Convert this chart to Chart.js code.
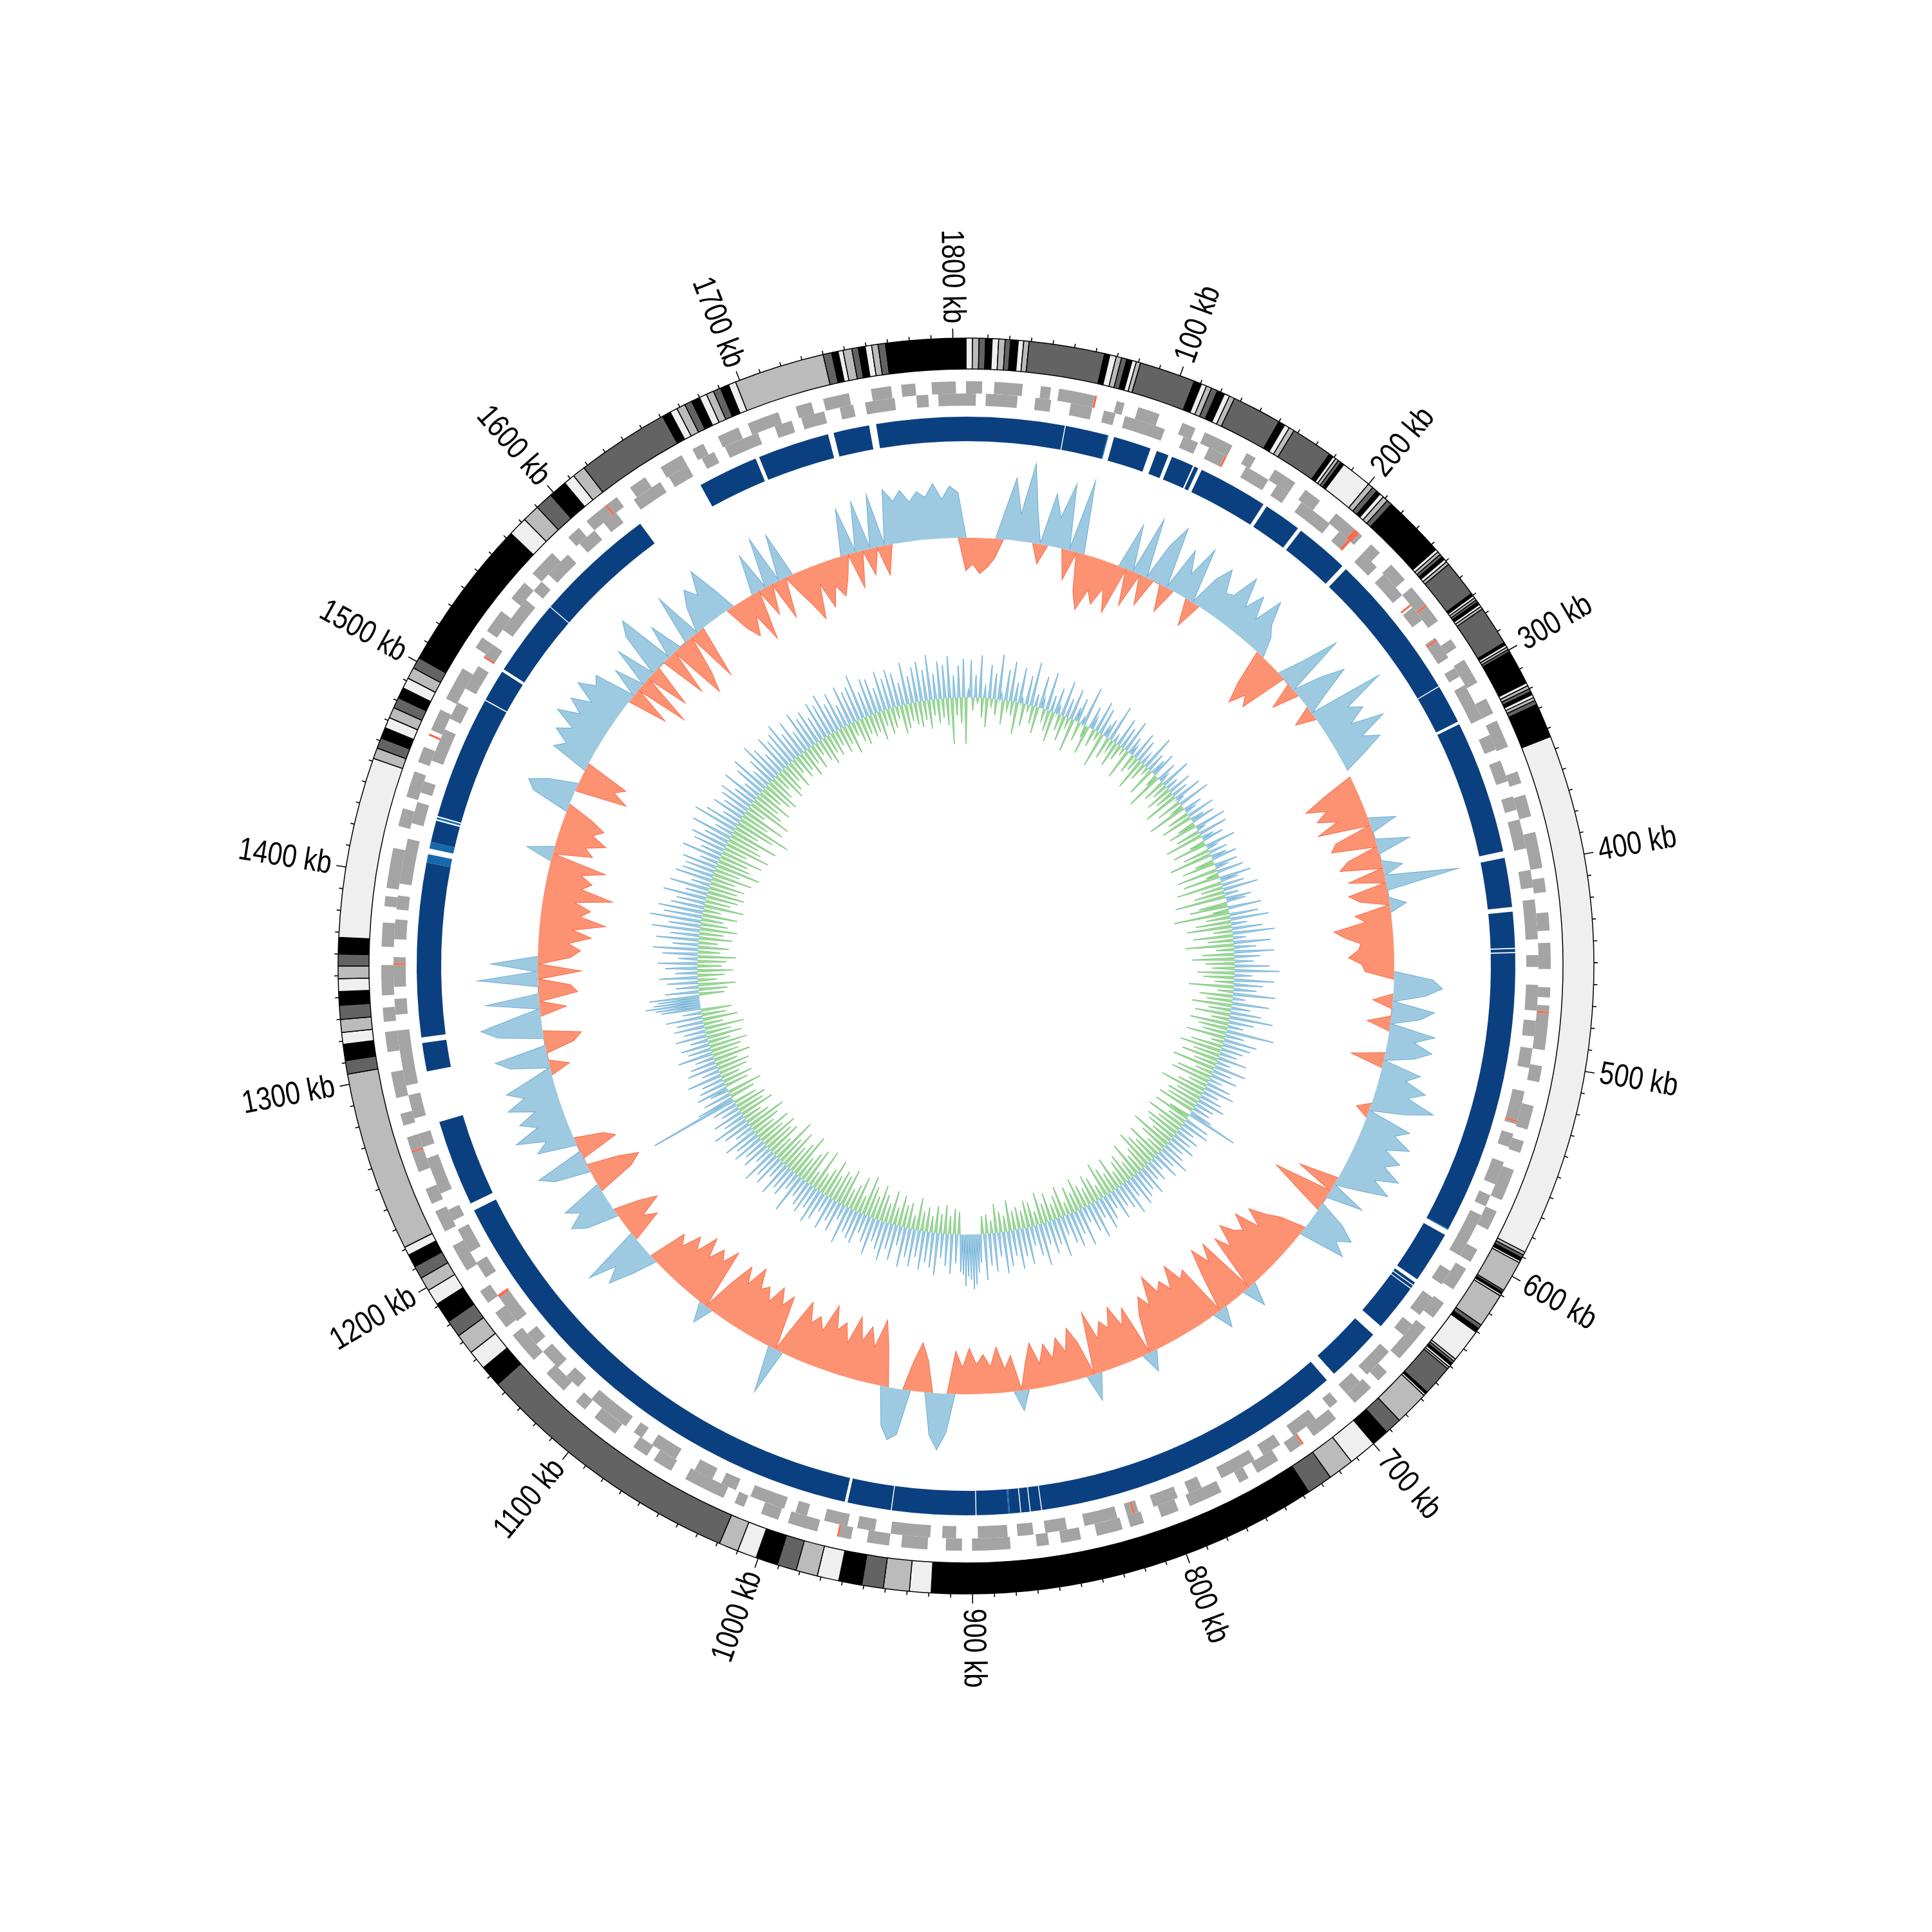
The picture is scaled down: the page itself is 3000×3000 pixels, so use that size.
<!DOCTYPE html>
<html>
<head>
<meta charset="utf-8">
<script src="https://cdn.jsdelivr.net/npm/chart.js@4.4.1/dist/chart.umd.min.js"></script>
<style>
  html, body { margin: 0; padding: 0; background: #fff; }
  #wrap { position: relative; width: 3000px; height: 3000px; }
  #wrap canvas { position: absolute; left: 0; top: 0; }
</style>
</head>
<body>
<div id="wrap">
  <canvas id="rings" width="3000" height="3000"></canvas>
  <canvas id="skew" width="3000" height="3000"></canvas>
  <canvas id="gc" width="3000" height="3000"></canvas>
</div>
<script>
// genome length (kb); contigs run clockwise from the top
const genomeSize = 1806;
const contigLengths = [
  3, 3, 3, 3, 3, 3, 2.5, 3.5, 2.5, 2.5,
  35, 2.5, 3, 2.5, 2.5, 2.5, 2, 2, 26, 3.5,
  2.5, 2.5, 3, 3.5, 2.5, 2.5, 23, 3, 2.5, 2.5,
  19.5, 2, 1.5, 1.5, 1.5, 1.6, 14.4, 2.5, 2.5, 2,
  2, 2.5, 2.5, 29, 1.5, 1.5, 1.5, 1.5, 1.5, 1.5,
  17, 1.2, 1.2, 1.2, 1.2, 1.3, 1.2, 1.3, 18.4, 1.2,
  1.2, 1.2, 1.2, 16.2, 1.5, 1.5, 1.5, 1.5, 1.5, 1.5,
  2, 16, 243.5, 1.5, 1.5, 1.5, 1, 14.5, 1, 1,
  1, 16, 2, 2, 15.5, 1.2, 1.2, 1.2, 1.1, 1,
  14.3, 1, 1, 16, 8, 8, 13, 12, 12, 182,
  10, 12, 10, 10.7, 10.1, 10, 9, 10.2, 9, 9,
  126, 10, 9, 9.5, 8, 9.5, 7.5, 6.5, 6, 6,
  4, 83.7, 6.3, 7.5, 5.5, 6, 6.5, 6.3, 5.9, 5.8,
  5.5, 7.6, 83.8, 5, 5, 5, 5, 5, 5, 5,
  5, 5.3, 5.3, 71, 8.9, 8.1, 8.3, 8.5, 5.2, 6,
  43, 4, 3.5, 4, 3.5, 4, 3.5, 3.5, 3.5, 4,
  3.5, 42, 4, 3, 2.3, 4.1, 3, 3.2, 3, 3,
  3.4, 37
];
const contigShades = ['#efefef', '#bbbbbb', '#636363', '#000000'];

// CDS clusters per strand as [cluster length kb, gap after it kb], from 0 kb
const cdsForward = [
  [8,6],[14,9],[5,4],[19,10],[4,7],[11,12],[7,5],[15,8],[5,11],[12,6],
  [9,10],[17,6],[6,8],[10,5],[21,11],[5,7],[13,9],[8,4],[14,13],[6,6],
  [11,8],[18,5],[7,10],[9,6],[13,9],[5,4],[22,8],[8,12],[12,6],[6,9],
  [16,6],[10,11],[7,4],[12,8],[9,6],[20,9],[6,5],[11,12],[14,6],[8,7],
  [12,5],[5,10],[17,6],[9,9],[7,4],[13,8],[10,6],[6,13],[19,5],[8,9],
  [13,6],[11,8],[7,10],[15,5],[9,9],[5,6],[21,8],[10,4],[8,11],[13,6],
  [6,8],[12,9],[16,5],[9,6],[7,12],[14,8],[11,4],[8,9],[18,6],[6,8],
  [13,10],[10,5],[7,6],[15,9],[12,8],[5,4],[20,11],[9,6],[13,5],[8,9],
  [11,6],[17,12],[6,4],[12,8],[10,6],[14,11],[7,5],[19,8],[9,9],[12,6],
  [6,8],[11,5],[16,9],[8,6],[13,11],[10,5],[7,8],[12,4]
];
const cdsReverse = [
  [5,5],[16,9],[8,10],[11,6],[6,5],[21,10],[8,6],[9,12],[13,5],[7,8],
  [18,6],[6,10],[10,5],[14,8],[8,11],[12,6],[5,5],[19,9],[8,6],[11,8],
  [7,5],[15,11],[9,6],[20,8],[6,9],[13,5],[8,6],[10,12],[17,5],[7,8],
  [12,6],[6,5],[23,9],[8,8],[11,6],[7,11],[16,5],[9,6],[5,9],[14,8],
  [10,5],[19,11],[7,6],[13,8],[6,5],[17,9],[11,6],[8,5],[15,11],[7,6],
  [20,8],[9,5],[12,9],[6,6],[18,8],[8,5],[10,11],[14,6],[5,5],[22,9],
  [8,6],[11,5],[7,8],[16,11],[9,6],[13,5],[6,9],[19,6],[7,8],[12,5],
  [28,8],[8,6],[15,9],[10,5],[7,6],[23,8],[11,5],[6,11],[17,6],[9,8],
  [13,5],[8,9],[19,6],[6,5],[14,8],[10,6],[8,11],[16,5],[11,8],[7,6],
  [18,9],[9,5],[12,8],[7,6],[15,11],[6,5],[14,4]
];
// rRNA / tRNA loci: [start kb, end kb, strand 1 forward / 2 reverse]
const rnaGenes = [
  [64,65,1],[135,136,2],[209,212,1],[210,211.5,2],[255,256,2],[260,261,1],[277,278,2],
  [474,475,1],[530,531,2],[726,727,1],[817,818,2],[966,967,1],[1177,1178.5,2],
  [1261,1262,1],[1355,1356,2],[1471,1472,1],[1518,1519,2],[1615,1616,1]
];

// conserved blocks (start kb, end kb)
const syntenyBlocks = [
  [0,52],[52.5,75],[78.5,98.5],[102,108.5],[110.5,122.5],[123.3,125.5],[127.5,164.5],[166.5,186.5],
  [188.5,217],[219.5,297.8],[298.3,319],[320.5,391],[394.5,420.5],[423,442],[442.6,444.2],[444.8,595],
  [598.5,626],[628,629.5],[630,631.5],[632,657],[663,692],[697,863],[863.5,869],[869.5,874],[874.5,880],
  [880.7,897.5],[898,942],[942.5,965.5],[967,1222],[1226,1271.7],[1299,1314],[1317,1409],[1420,1431.5],
  [1434,1499.4],[1500,1517],[1518.5,1559],[1559.5,1623.5],[1661,1693],[1695,1733],[1736,1755],[1758.7,1806]
];
const syntenyEdges = [[75,75.5],[595,595.5],[880,880.7],[1409,1413.5],[1416.5,1420],[1432.3,1433.3]];

// GC skew per window (x 0.001), blue above zero, red below; null = no data
const gcSkew = [
  -50,-40,-55,-45,-30,45,95,40,120,50,
  -30,80,45,100,-45,110,-60,-85,-50,-70,
  -40,-75,70,-55,90,-45,60,95,-40,70,
  35,85,-40,50,75,40,45,85,40,70,
  35,80,45,30,-55,-85,-60,-75,40,95,
  -40,45,80,35,-30,116,50,70,40,90,
  45,70,35,null,null,-50,-85,-55,-75,-45,
  -80,40,-60,-70,50,-50,-65,30,-55,110,
  -60,-45,25,-55,-40,-90,-75,-50,-55,-70,
  -50,-45,60,75,50,-30,65,45,-35,70,
  40,70,45,-50,60,40,75,50,95,55,
  -20,70,50,80,45,75,55,85,50,80,
  40,-60,55,-90,-50,45,70,50,72,-40,
  -60,-85,-55,-95,-70,-80,-100,-65,-90,35,
  -96,-70,-100,-60,30,-85,-75,-105,-70,-90,
  -77,-109,-65,-85,-60,30,-80,-55,-90,-60,
  -75,-50,-95,40,-55,-80,-45,-70,-40,-65,
  -35,-70,-40,30,-55,-35,-70,-40,-60,-45,
  -70,-40,-65,60,87,65,-50,-75,-45,70,
  80,60,-60,-100,-55,-85,-60,-95,-50,-80,
  -65,-100,-55,-75,-60,-90,-50,70,-85,-65,
  -90,-60,-80,-70,-100,-65,-90,-55,30,-95,
  -70,-85,-60,-90,-55,-75,-45,-60,40,75,
  50,92,-50,-30,-66,-40,50,70,45,65,
  -60,-79,-50,55,76,-60,-45,60,40,85,
  45,70,40,80,50,75,35,-30,60,80,
  -45,-58,70,94,45,-40,80,-60,-50,90,
  -65,70,-50,-65,-45,-80,-50,-100,-60,-75,
  -48,-105,-55,-70,-50,-85,40,-60,-45,-75,
  -50,-65,-40,60,73,45,-80,-55,-70,60,
  45,70,48,83,50,75,45,80,55,65,
  -60,45,-80,60,-65,70,90,-70,50,-90,
  -60,75,-80,40,64,45,80,40,-40,-60,
  -30,-75,60,-45,75,-60,70,-30,-55,-82,
  -28,-70,-40,-60,-35,70,-55,75,-40,80,
  -45,85,65,80,60,75,65,85,60,80,
  70
];

// GC content deviation from the mean per window (x 0.001), blue above, green below
const gcContent = [
  -72,12,58,-20,35,-8,66,-30,18,-45,52,-12,40,-25,70,10,-38,48,-15,62,
  -22,30,-50,55,8,-35,45,-10,68,-28,20,-42,50,15,-18,60,-33,25,-48,40,
  12,-26,55,-40,30,-15,48,-52,22,38,-30,10,62,-20,-45,35,18,-28,50,-12,
  42,-55,20,30,-35,58,-18,12,-40,46,-25,35,-10,52,-48,28,15,-30,44,-22,
  36,-50,18,-28,55,-12,30,-45,25,40,-20,-58,32,14,-36,48,-25,20,-42,38,
  -30,26,-55,45,10,-40,52,-18,-62,30,16,-35,44,-50,22,38,-28,-45,50,12,
  -38,46,-60,20,34,-25,-55,48,15,-42,30,-68,25,40,-30,-52,36,18,-65,42,
  -20,-58,50,28,-72,35,-35,55,-48,22,-80,40,30,-45,-60,52,-25,-87,45,-38,
  60,-55,25,-70,48,-30,66,-62,20,-40,58,-75,35,-28,62,-50,40,-66,30,-45,
  55,-35,70,-58,28,-48,62,-30,45,-70,36,-25,66,-52,20,-40,58,-62,30,-35,
  48,-55,68,-28,40,-60,25,-45,75,-38,30,-62,52,-20,44,-50,35,-66,28,-42,
  46,-58,22,-36,50,-68,30,-28,42,-55,18,-62,38,-30,48,-45,26,-70,35,-40,
  44,-52,30,-48,28,-60,36,81,-35,-58,40,-30,45,-62,25,-40,38,-55,30,-48,
  42,-35,28,-66,35,-45,50,-28,30,-58,44,-40,22,-50,36,-62,28,-38,48,-30,
  35,-55,42,-28,50,-45,30,-38,55,-25,40,-52,32,-30,48,-42,26,-55,40,-22,
  52,-38,30,-45,58,-28,44,-35,25,-50,60,-30,38,-42,55,-20,46,-48,30,-36,
  62,-25,40,-45,52,-30,35,-50,66,-22,48,-38,30,-42,58,-28,44,-35,62,-30,
  40,-48,55,-25,65,-32,38,-45,60,-20,50,-30,72,-28,45,60,78,85,70,65,
  80,62,58,-35,45,-40,62,-28,50,-45,38,-30,66,-42,55,-25,48,-38,60,-30,
  42,-50,58,-22,45,-40,62,-35,30,-48,55,-28,40,-52,60,-30,45,-42,35,-55,
  58,-35,42,-48,30,-62,50,-28,45,-55,38,-40,60,-30,25,-58,48,-45,35,-50,
  52,-38,28,-60,45,-42,55,-30,35,-65,48,-25,40,-58,30,-48,62,-35,28,-70,
  45,-52,38,-40,55,-62,30,-45,50,-72,40,-35,58,-55,28,-48,45,-60,35,-42,
  50,-58,40,-35,55,-48,30,-62,45,-40,58,-30,35,-55,48,-42,30,-50,40,-38,
  141,60,-40,45,-55,30,50,-38,42,-48,35,-30,55,-45,28,-52,48,-35,40,-58,
  30,-42,55,-48,36,-60,45,-35,28,-55,50,-40,35,-62,48,-30,42,-55,58,-38,
  30,-48,62,70,85,72,65,78,-40,52,-45,35,-58,48,-30,60,-42,35,-55,50,
  -38,62,-45,30,-60,55,-35,70,-48,40,-30,66,-52,45,-38,75,-58,50,-42,80,
  -35,60,-55,70,-28,52,-62,45,-40,68,-50,35,-58,62,-45,30,-55,58,-38,50,
  -62,48,-40,55,-70,30,-52,62,-45,35,-66,50,-38,58,-72,40,-55,65,-48,30,
  -75,70,-40,55,-62,30,-86,52,-45,38,-68,48,-30,55,-70,35,-52,60,-42,28,
  -58,50,-35,62,-48,30,-55,45,-40,66,-28,52,-50,35,-42,60,-30,48,-45,55,
  -25,65,-38,42,-30,58,-45,35,-28,62,-40,48,-22,55,-35,40,-45,60,-30,52,
  -38,65,-25,45,-40,58,-30,35,-48,62,-22,50,-35,55,-42,70,-28,40,-35,58,
  -30,55,-45,38,-25,62,-40,48,-32,60,-20,52,-45,35,-38,65,-28,42,-35,55,
  -40,62,-30,48,-45,70,-25,40,-38,58,-30,52,-42,65,-72,35,-28,50,-40,60
];

const majorTicks = [100, 200, 300, 400, 500, 600, 700, 800, 900, 1000, 1100, 1200, 1300, 1400, 1500, 1600, 1700, 1800];
const minorStep = 10;

const CLEAR = 'rgba(0,0,0,0)';
const CDS_GREY = '#a4a4a4';
const RNA_RED = '#fb6a4a';

// ---- ring tables ----
function withRemainder(data, colors) {
  const total = data.reduce((a, b) => a + b, 0);
  if (total < genomeSize) { data.push(genomeSize - total); colors.push(CLEAR); }
  return { data, colors };
}

// one strand row: grey CDS clusters with RNA loci painted over them
function strandRing(clusters, strand) {
  const spans = [];
  let pos = 0;
  clusters.forEach(([len, gap]) => { spans.push([pos, pos + len]); pos += len + gap; });
  const marks = rnaGenes.filter(r => r[2] === strand);
  const cuts = new Set([0, genomeSize]);
  spans.forEach(([s, e]) => { cuts.add(s); cuts.add(Math.min(e, genomeSize)); });
  marks.forEach(([s, e]) => { cuts.add(s); cuts.add(e); });
  const xs = [...cuts].filter(x => x <= genomeSize).sort((a, b) => a - b);
  const data = [], colors = [];
  for (let i = 0; i < xs.length - 1; i++) {
    const m = (xs[i] + xs[i + 1]) / 2;
    const c = marks.some(([s, e]) => m > s && m < e) ? RNA_RED
      : spans.some(([s, e]) => m > s && m < e) ? CDS_GREY : CLEAR;
    if (colors.length && colors[colors.length - 1] === c) data[data.length - 1] += xs[i + 1] - xs[i];
    else { data.push(xs[i + 1] - xs[i]); colors.push(c); }
  }
  return { data, colors };
}

function blocksRing(groups) {
  const all = [];
  groups.forEach(([blocks, color]) => blocks.forEach(b => all.push([b[0], b[1], color])));
  all.sort((a, b) => a[0] - b[0]);
  const data = [], colors = [];
  let pos = 0;
  all.forEach(([s, e, c]) => {
    if (s > pos) { data.push(s - pos); colors.push(CLEAR); }
    data.push(e - Math.max(s, pos)); colors.push(c);
    pos = e;
  });
  return withRemainder(data, colors);
}

const contigRing = { data: contigLengths.slice(), colors: contigLengths.map((_, i) => contigShades[i % 4]) };
const fwdRing = strandRing(cdsForward, 1);
const revRing = strandRing(cdsReverse, 2);
const blockRing = blocksRing([[syntenyBlocks, '#0b4080'], [syntenyEdges, '#1769ae']]);

function ringSet(ring, weight, borderWidth) {
  return {
    data: ring.data, backgroundColor: ring.colors, weight: weight,
    borderWidth: borderWidth, borderColor: '#000'
  };
}
const spacer = w => ({ data: [1], backgroundColor: [CLEAR], weight: w, borderWidth: 0 });

// ---- ticks and kb labels round the outer ring ----
const labelFont = '50px "Liberation Sans", Arial, sans-serif';
const kbTicks = {
  id: 'kbTicks',
  afterDatasetsDraw(chart) {
    const arc = chart.getDatasetMeta(0).data[0];
    const cx = arc.x, cy = arc.y, r0 = arc.outerRadius;
    const ctx = chart.ctx;
    ctx.save();
    ctx.strokeStyle = '#000';
    ctx.lineWidth = 1.6;
    for (let i = 1; i * minorStep < genomeSize; i++) {
      const kb = i * minorStep;
      const a = kb / genomeSize * 2 * Math.PI - Math.PI / 2;
      const len = kb % 100 === 0 ? 15 : 6;
      ctx.beginPath();
      ctx.moveTo(cx + Math.cos(a) * r0, cy + Math.sin(a) * r0);
      ctx.lineTo(cx + Math.cos(a) * (r0 + len), cy + Math.sin(a) * (r0 + len));
      ctx.stroke();
    }
    // narrow lettering: squeeze the face so "400 kb" runs about 123px
    ctx.font = labelFont;
    const squeeze = 123 / ctx.measureText('400 kb').width;
    ctx.fillStyle = '#000';
    ctx.textBaseline = 'middle';
    majorTicks.forEach(kb => {
      const deg = kb / genomeSize * 360;
      const a = deg * Math.PI / 180 - Math.PI / 2;
      const rl = r0 + 23;
      ctx.save();
      ctx.translate(cx + Math.cos(a) * rl, cy + Math.sin(a) * rl);
      if (deg < 180) { ctx.rotate((deg - 90) * Math.PI / 180); ctx.textAlign = 'left'; }
      else { ctx.rotate((deg + 90) * Math.PI / 180); ctx.textAlign = 'right'; }
      ctx.scale(squeeze, 1);
      ctx.fillText(kb + ' kb', 0, 0);
      ctx.restore();
    });
    ctx.restore();
  }
};

const quiet = {
  responsive: false, animation: false, devicePixelRatio: 1, events: [],
  plugins: { legend: { display: false }, tooltip: { enabled: false } }
};

new Chart(document.getElementById('rings'), {
  type: 'doughnut',
  data: {
    labels: [],
    datasets: [
      ringSet(contigRing, 48, 1.5),
      spacer(19),
      ringSet(fwdRing, 19, 0),
      ringSet(revRing, 19, 0),
      spacer(17),
      ringSet(blockRing, 38, 0)
    ]
  },
  options: Object.assign({}, quiet, { radius: 975, cutout: (815 / 975 * 100) + '%' }),
  plugins: [kbTicks]
});

// ---- signal tracks as radar lines filled to their baseline ----
function keepSign(values, sign) {
  return values.map(v => (v !== null && v * sign > 0 ? v : 0));
}
function edgeOf(values, sign) {
  const n = values.length;
  const on = v => v !== null && v * sign > 0;
  return values.map((v, i) => on(v) ? v
    : (on(values[(i + n - 1) % n]) || on(values[(i + 1) % n]) ? 0 : null));
}

function track(id, values, base, up, down, lineWidth) {
  const pts = { pointRadius: 0, pointHoverRadius: 0, tension: 0 };
  return new Chart(document.getElementById(id), {
    type: 'radar',
    data: {
      labels: values.map((_, i) => Math.round(i * genomeSize / values.length)),
      datasets: [
        Object.assign({ data: keepSign(values, 1), fill: { value: 0 }, backgroundColor: up[0], borderColor: CLEAR, borderWidth: 0 }, pts),
        Object.assign({ data: keepSign(values, -1), fill: { value: 0 }, backgroundColor: down[0], borderColor: CLEAR, borderWidth: 0 }, pts),
        Object.assign({ data: edgeOf(values, 1), fill: false, borderColor: up[1], borderWidth: lineWidth, spanGaps: false }, pts),
        Object.assign({ data: edgeOf(values, -1), fill: false, borderColor: down[1], borderWidth: lineWidth, spanGaps: false }, pts)
      ]
    },
    options: Object.assign({}, quiet, {
      scales: {
        r: {
          min: -base, max: 1500 - base,
          grid: { display: false }, angleLines: { display: false },
          ticks: { display: false }, pointLabels: { display: false }
        }
      }
    })
  });
}

track('skew', gcSkew, 665, ['#9ecae1', '#6baed6'], ['#fc9272', '#fb6a4a'], 2);
// each GC window is drawn as its own spike that returns to the mean line
track('gc', gcContent.flatMap(v => [v, 0]), 417, ['#9ecae1', '#6baed6'], ['#a1d99b', '#74c476'], 1.5);
</script>
</body>
</html>
